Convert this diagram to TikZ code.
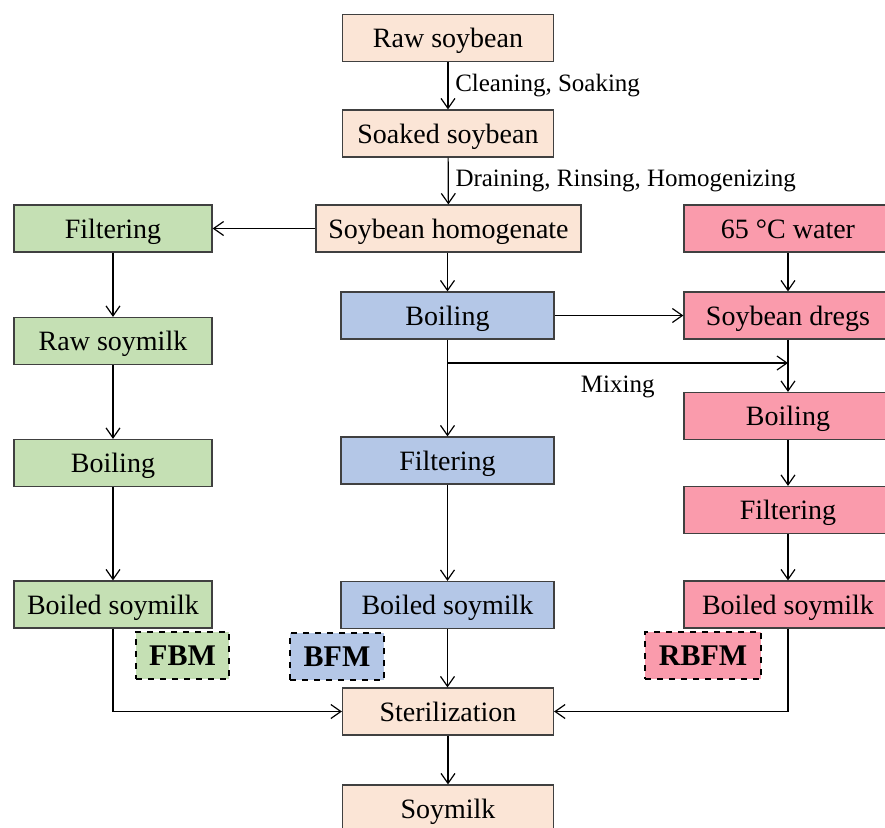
\documentclass[tikz,border=0pt]{standalone}
\usepackage{fontspec}
\setmainfont{Liberation Serif}
\usetikzlibrary{arrows.meta}

\definecolor{peach}{HTML}{FBE5D6}
\definecolor{leaf}{HTML}{C5E0B4}
\definecolor{sky}{HTML}{B4C7E7}
\definecolor{rose}{HTML}{FA9BAC}
\definecolor{edge}{HTML}{404040}

\tikzset{
	box/.style={draw=edge, line width=0.6pt, minimum height=23.5pt, inner sep=2pt,
		text height=11pt, text depth=1.5pt,
		font=\fontsize{14}{16}\selectfont},
	mainbox/.style={box, fill=peach, minimum width=105.5pt},
	fbox/.style={box, fill=leaf, minimum width=99pt},
	bbox/.style={box, fill=sky, minimum width=106.5pt},
	rbox/.style={box, fill=rose, minimum width=104pt},
	tag/.style={draw=black, dashed, line width=0.9pt, minimum height=23.5pt,
		text height=11pt, text depth=1pt,
		font=\fontsize{15}{17}\selectfont\bfseries},
	steplabel/.style={font=\fontsize{12.5}{14}\selectfont},
	arr/.style={-{Straight Barb[length=5pt,width=7pt]}, line width=0.6pt, black}
}

\begin{document}
\begin{tikzpicture}[x=0.5pt, y=-0.5pt]
	% The frame
	\useasboundingbox (0, 0) rectangle (885, 827);
	\clip (0, 0) rectangle (885, 827);
	% The main column
	\node[mainbox] (raw) at (448, 38) {Raw soybean};
	\node[mainbox] (soaked) at (448, 133.5) {Soaked soybean};
	\node[mainbox, minimum width=132.5pt] (homog) at (448.5, 228.5) {Soybean homogenate};
	\node[mainbox] (steril) at (448, 711.5) {Sterilization};
	\node[mainbox] (soymilk) at (448, 808.5) {Soymilk};
	% The FBM column
	\node[fbox] (ffilter) at (113, 228.5) {Filtering};
	\node[fbox] (fraw) at (113, 341) {Raw soymilk};
	\node[fbox] (fboil) at (113, 463) {Boiling};
	\node[fbox] (fboiled) at (113, 604.5) {Boiled soymilk};
	% The BFM column
	\node[bbox] (bboil) at (447.5, 315.5) {Boiling};
	\node[bbox] (bfilter) at (447.5, 460.5) {Filtering};
	\node[bbox] (bboiled) at (447.5, 605) {Boiled soymilk};
	% The RBFM column
	\node[rbox] (rwater) at (788, 228.5) {65 °C water};
	\node[rbox] (rdregs) at (788, 315.5) {Soybean dregs};
	\node[rbox] (rboil) at (788, 416) {Boiling};
	\node[rbox] (rfilter) at (788, 510) {Filtering};
	\node[rbox] (rboiled) at (788, 604.5) {Boiled soymilk};
	% The tags
	\node[tag, fill=leaf, minimum width=46.5pt] (fbm) at (182.5, 655.5) {FBM};
	\node[tag, fill=sky, minimum width=47pt] (bfm) at (337, 656.5) {BFM};
	\node[tag, fill=rose, minimum width=58pt] (rbfm) at (703, 655.5) {RBFM};
	% The connectors
	\draw[arr] (raw) -- node[right, steplabel] {Cleaning, Soaking} (soaked);
	\draw[arr] (soaked) -- node[right, steplabel] {Draining, Rinsing, Homogenizing} (homog);
	\draw[arr] (homog) -- (ffilter);
	\draw[arr] (homog.south -| bboil) -- (bboil);
	\draw[arr] (ffilter) -- (fraw);
	\draw[arr] (fraw) -- (fboil);
	\draw[arr] (fboil) -- (fboiled);
	\draw[arr] (bboil) -- (rdregs);
	\draw[arr] (bboil) -- (bfilter);
	\draw[arr] (bfilter) -- (bboiled);
	\draw[arr] (bboiled) -- (steril.north -| bboiled);
	\draw[arr] (rwater) -- (rdregs);
	\draw[arr] (rdregs) -- (rboil);
	\draw[arr] (rboil) -- (rfilter);
	\draw[arr] (rfilter) -- (rboiled);
	\draw[arr] (steril) -- (soymilk);
	\draw[arr] (fboiled) |- (steril);
	\draw[arr] (rboiled) |- (steril);
	% The mixing branch
	\coordinate (mixfrom) at (447.5, 363);
	\coordinate (mixto) at (788, 363);
	\draw[arr] (mixfrom) -- node[below=3pt, steplabel] {Mixing} (mixto);
\end{tikzpicture}
\end{document}
